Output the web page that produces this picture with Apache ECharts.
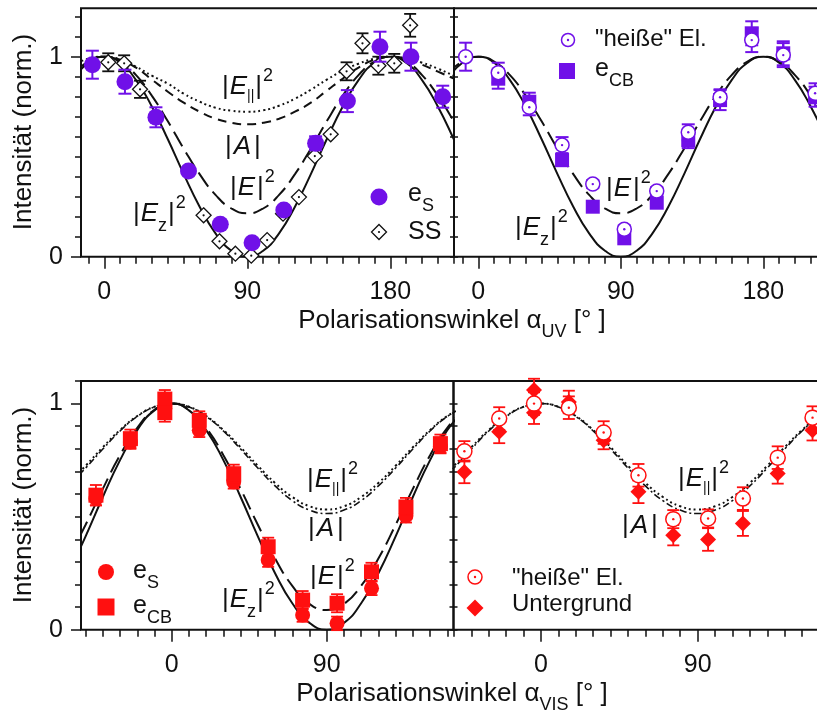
<!DOCTYPE html>
<html>
<head>
<meta charset="utf-8">
<script src="https://cdn.jsdelivr.net/npm/echarts@6/dist/echarts.min.js"></script>
<style>
  html, body { margin: 0; padding: 0; background: #fff; }
  #chart { width: 817px; height: 716px; }
</style>
</head>
<body>
<div id="chart"></div>
<script>
// ---------- model curves (UV excitation, upper row) ----------
const curveAngleUv = [-20, -10, 0, 10, 20, 30, 40, 50, 60, 70, 80, 90, 100, 110, 120, 130, 140, 150, 160, 170, 180, 190, 200, 210, 220, 230];
const ezUv   = [0.883, 0.970, 1, 0.970, 0.883, 0.750, 0.587, 0.413, 0.250, 0.117, 0.030, 0, 0.030, 0.117, 0.250, 0.413, 0.587, 0.750, 0.883, 0.970, 1, 0.970, 0.883, 0.750, 0.587, 0.413];
const eTotUv = [0.908, 0.976, 1, 0.976, 0.908, 0.804, 0.677, 0.540, 0.413, 0.309, 0.241, 0.217, 0.241, 0.309, 0.413, 0.540, 0.677, 0.804, 0.908, 0.976, 1, 0.976, 0.908, 0.804, 0.677, 0.540];
const absAUv = [0.950, 0.985, 1, 0.985, 0.945, 0.885, 0.825, 0.770, 0.725, 0.690, 0.670, 0.662, 0.670, 0.690, 0.725, 0.770, 0.830, 0.890, 0.945, 0.985, 1, 0.990, 0.960, 0.925, 0.890, 0.850];
const eParUv = [0.955, 0.990, 1, 0.985, 0.950, 0.905, 0.865, 0.815, 0.775, 0.745, 0.730, 0.725, 0.732, 0.755, 0.790, 0.835, 0.885, 0.930, 0.965, 0.990, 1, 0.990, 0.970, 0.940, 0.905, 0.870];

// ---------- model curves (VIS excitation, lower row) ----------
const curveAngleVis = [-60, -50, -40, -30, -20, -10, 0, 10, 20, 30, 40, 50, 60, 70, 80, 90, 100, 110, 120, 130, 140, 150, 160, 170];
const ezVis   = [0.250, 0.413, 0.587, 0.750, 0.883, 0.970, 1, 0.970, 0.883, 0.750, 0.587, 0.413, 0.250, 0.117, 0.030, 0, 0.030, 0.117, 0.250, 0.413, 0.587, 0.750, 0.883, 0.970];
const eTotVis = [0.315, 0.464, 0.623, 0.772, 0.893, 0.973, 1, 0.973, 0.893, 0.772, 0.623, 0.464, 0.315, 0.194, 0.114, 0.087, 0.114, 0.194, 0.315, 0.464, 0.623, 0.772, 0.893, 0.973];
const eParVis = [0.649, 0.725, 0.807, 0.883, 0.945, 0.986, 1, 0.986, 0.945, 0.883, 0.807, 0.725, 0.649, 0.587, 0.546, 0.532, 0.546, 0.587, 0.649, 0.725, 0.807, 0.883, 0.945, 0.986];
const absAVis = [0.636, 0.715, 0.799, 0.879, 0.943, 0.985, 1, 0.985, 0.943, 0.879, 0.799, 0.715, 0.636, 0.571, 0.529, 0.514, 0.529, 0.571, 0.636, 0.715, 0.799, 0.879, 0.943, 0.985];

// ---------- measurements, UV ----------
const esUvAngle = [-7.5, 13, 32.5, 53, 73, 93, 113, 133, 153, 173.5, 193, 213];
const esUvValue = [0.96, 0.875, 0.697, 0.428, 0.162, 0.07, 0.233, 0.567, 0.778, 1.05, 1.0, 0.80];
const esUvErr   = [0.07, 0.06, 0.05, 0, 0, 0, 0, 0.035, 0.055, 0.075, 0.07, 0.055];

const ssAngle = [2.5, 12.5, 22.5, 62.5, 72.5, 82.5, 92.5, 102.5, 112.5, 122.5, 132.5, 142.5, 152.5, 162.5, 172.5, 182.5, 192.5];
const ssValue = [0.972, 0.967, 0.837, 0.207, 0.077, 0.015, 0.005, 0.083, 0.215, 0.298, 0.503, 0.612, 0.927, 1.067, 0.955, 0.967, 1.157];
const ssErr   = [0.045, 0.04, 0.043, 0, 0, 0, 0, 0, 0, 0, 0, 0, 0.045, 0.05, 0.045, 0.047, 0.057];

const hotUvAngle = [-8, 12.6, 32.2, 52.9, 72.3, 92.2, 112.7, 132.6, 152.7, 172.7, 192.6, 212.7];
const hotUvValue = [1.0, 0.92, 0.747, 0.558, 0.363, 0.137, 0.328, 0.622, 0.797, 1.083, 1.008, 0.817];
const hotUvErr   = [0.07, 0.05, 0.04, 0.04, 0.02, 0.02, 0.02, 0.04, 0.04, 0.06, 0.06, 0.05];

const cbUvAngle = [12.6, 32.2, 52.9, 72.3, 92.2, 112.7, 132.6, 152.7, 172.7, 192.6, 212.7];
const cbUvValue = [0.89, 0.775, 0.483, 0.25, 0.092, 0.27, 0.583, 0.783, 1.117, 1.017, 0.80];
const cbUvErr   = [0.05, 0.045, 0.03, 0, 0, 0, 0.04, 0.05, 0.06, 0.06, 0.05];

// ---------- measurements, VIS ----------
const esVisAngle = [-44, -24, -4, 16, 36, 56, 76, 96, 116, 136, 156];
const esVisValue = [0.58, 0.83, 0.98, 0.882, 0.654, 0.308, 0.065, 0.028, 0.183, 0.504, 0.81];
const esVisErr   = [0.03, 0.03, 0.03, 0.03, 0.03, 0.03, 0.03, 0.03, 0.03, 0.03, 0.03];

const cbVisAngle = [-44, -24, -4, -4, 16, 36, 56, 76, 96, 116, 136, 156];
const cbVisValue = [0.595, 0.845, 1.02, 0.96, 0.926, 0.69, 0.367, 0.131, 0.117, 0.256, 0.543, 0.823];
const cbVisErr   = [0.045, 0.04, 0.04, 0.04, 0.04, 0.04, 0.04, 0.04, 0.04, 0.04, 0.04, 0.04];

const hotVisAngle = [-44, -24, -4, 16, 36, 56, 76, 96, 116, 136, 156];
const hotVisValue = [0.789, 0.934, 1.0, 0.982, 0.872, 0.683, 0.489, 0.492, 0.58, 0.761, 0.938];
const hotVisErr   = [0.045, 0.05, 0.05, 0.05, 0.05, 0.05, 0.04, 0.04, 0.05, 0.05, 0.05];

const bgVisAngle = [-44, -24, -4, -4, 16, 36, 56, 76, 96, 116, 136, 156];
const bgVisValue = [0.698, 0.875, 1.06, 0.96, 1.007, 0.838, 0.61, 0.418, 0.399, 0.47, 0.691, 0.882];
const bgVisErr   = [0.05, 0.05, 0.05, 0.05, 0.05, 0.04, 0.05, 0.045, 0.05, 0.055, 0.045, 0.045];

// ---------- tick positions ----------
const majorTicksUv = [0, 90, 180];
const minorTicksUv = [-10, 0, 10, 20, 30, 40, 50, 60, 70, 80, 90, 100, 110, 120, 130, 140, 150, 160, 170, 180, 190, 200, 210, 220];
const majorTicksVis = [0, 90];
const minorTicksVis = [-50, -40, -30, -20, -10, 0, 10, 20, 30, 40, 50, 60, 70, 80, 90, 100, 110, 120, 130, 140, 150, 160];
const yLabelTicks = [0, 1];
const yMinorTicksUv = [0, 0.1, 0.2, 0.3, 0.4, 0.5, 0.6, 0.7, 0.8, 0.9, 1, 1.1, 1.2];
const yMinorTicksVis = [0, 0.1, 0.2, 0.3, 0.4, 0.5, 0.6, 0.7, 0.8, 0.9, 1, 1.1];

// ---------- styling ----------
const PURPLE = '#7010e8';
const RED = '#ff1010';
const INK = '#111111';
const FONT = '"Liberation Sans", Arial, Helvetica, sans-serif';

// panel frames: [left, top, width, height, xMin, xMax, yMax]
const panels = [
  { left: 81,    top: 8.3, width: 373,   height: 248.4, xMin: -14.66, xMax: 220.1,  yMax: 1.242, major: majorTicksUv,  minor: minorTicksUv,  yMinor: yMinorTicksUv,  labels: true },
  { left: 454,   top: 8.3, width: 374,   height: 248.4, xMin: -15.35, xMax: 220.86, yMax: 1.242, major: majorTicksUv,  minor: minorTicksUv,  yMinor: yMinorTicksUv,  labels: false },
  { left: 81,    top: 381, width: 372.5, height: 248.7, xMin: -52.67, xMax: 163.6,  yMax: 1.1,   major: majorTicksVis, minor: minorTicksVis, yMinor: yMinorTicksVis, labels: true },
  { left: 453.5, top: 381, width: 374,   height: 248.7, xMin: -50.26, xMax: 164.6,  yMax: 1.1,   major: majorTicksVis, minor: minorTicksVis, yMinor: yMinorTicksVis, labels: false }
];

const tickStyle = { color: INK, width: 1.5 };
const hidden = { show: false };
const noLine = { show: false, onZero: false };
const labelFont = { fontSize: 25, fontFamily: FONT, color: INK };

const grids = [], xAxes = [], yAxes = [];
panels.forEach((p, i) => {
  grids.push({ left: p.left, top: p.top, width: p.width, height: p.height, show: true,
    borderColor: INK, borderWidth: 2, backgroundColor: 'transparent', containLabel: false, outerBoundsMode: 'none' });
  // bottom axis: 10 degree ticks and the labels
  xAxes.push({ type: 'value', gridIndex: i, min: p.xMin, max: p.xMax, position: 'bottom',
    axisLine: noLine, splitLine: hidden,
    axisTick: { show: true, customValues: p.minor, length: 7, lineStyle: tickStyle },
    axisLabel: Object.assign({ show: true, customValues: p.major, margin: 23 }, labelFont) });
  // longer ticks at the labelled angles, drawn from the frame's lower edge
  xAxes.push({ type: 'value', gridIndex: i, min: p.xMin, max: p.xMax, position: 'top', offset: -p.height,
    axisLine: noLine, splitLine: hidden,
    axisTick: { show: true, inside: true, customValues: p.major, length: 12, lineStyle: tickStyle },
    axisLabel: hidden });
  if (p.labels) {
    yAxes.push({ type: 'value', gridIndex: i, min: 0, max: p.yMax, position: 'left',
      axisLine: noLine, splitLine: hidden,
      axisTick: { show: true, customValues: p.yMinor, length: 6, lineStyle: tickStyle },
      axisLabel: Object.assign({ show: true, customValues: yLabelTicks, margin: 18 }, labelFont) });
    yAxes.push({ type: 'value', gridIndex: i, min: 0, max: p.yMax, position: 'right', offset: -p.width,
      axisLine: noLine, splitLine: hidden,
      axisTick: { show: true, inside: true, customValues: yLabelTicks, length: 10, lineStyle: tickStyle },
      axisLabel: hidden });
  } else {
    // ticks crossing the shared border
    yAxes.push({ type: 'value', gridIndex: i, min: 0, max: p.yMax, position: 'left',
      axisLine: noLine, splitLine: hidden,
      axisTick: { show: true, customValues: p.yMinor, length: 4, lineStyle: tickStyle },
      axisLabel: hidden });
    yAxes.push({ type: 'value', gridIndex: i, min: 0, max: p.yMax, position: 'right', offset: -p.width,
      axisLine: noLine, splitLine: hidden,
      axisTick: { show: true, customValues: p.yMinor, length: 4, lineStyle: tickStyle },
      axisLabel: hidden });
  }
});

// ---------- series builders ----------
const zip = (xs, ys) => xs.map((x, i) => [x, ys[i]]);

function curve(panel, xs, ys, dash, width) {
  return { type: 'line', xAxisIndex: 2 * panel, yAxisIndex: 2 * panel, data: zip(xs, ys),
    smooth: 0.5, symbol: 'none', showSymbol: false, silent: true, clip: true, z: 2,
    lineStyle: { color: INK, width: width, type: dash, cap: 'butt' } };
}

function markers(panel, xs, ys, symbol, size, fill, stroke, borderWidth, z) {
  return { type: 'scatter', xAxisIndex: 2 * panel, yAxisIndex: 2 * panel, data: zip(xs, ys),
    symbol: symbol, symbolSize: size, silent: true, z: z,
    itemStyle: { color: fill, borderColor: stroke, borderWidth: borderWidth, opacity: 1 } };
}

function errorBars(panel, xs, ys, es, color, capWidth, lineWidth, z) {
  const data = xs.map((x, i) => [x, ys[i], es[i]]).filter(d => d[2] > 0);
  return { type: 'custom', coordinateSystem: 'cartesian2d', xAxisIndex: 2 * panel, yAxisIndex: 2 * panel,
    data: data, encode: { x: 0, y: 1 }, silent: true, z: z,
    renderItem: function (params, api) {
      const x = api.value(0), y = api.value(1), e = api.value(2);
      const hi = api.coord([x, y + e]);
      const lo = api.coord([x, y - e]);
      const h = capWidth / 2;
      const style = { stroke: color, lineWidth: lineWidth, fill: null };
      return { type: 'group', children: [
        { type: 'line', shape: { x1: hi[0], y1: hi[1], x2: lo[0], y2: lo[1] }, style: style },
        { type: 'line', shape: { x1: hi[0] - h, y1: hi[1], x2: hi[0] + h, y2: hi[1] }, style: style },
        { type: 'line', shape: { x1: lo[0] - h, y1: lo[1], x2: lo[0] + h, y2: lo[1] }, style: style }
      ] };
    } };
}

const DOT = [2, 3];
const LONG_DASH = [17, 7];
const DASH = [9, 6];
const DASH_DOT = [7, 3, 2, 3];

const series = [
  // upper left
  curve(0, curveAngleUv, eParUv, DOT, 2),
  curve(0, curveAngleUv, absAUv, DASH, 2),
  curve(0, curveAngleUv, eTotUv, LONG_DASH, 2),
  curve(0, curveAngleUv, ezUv, 'solid', 2),
  errorBars(0, ssAngle, ssValue, ssErr, INK, 12, 1.8, 3),
  markers(0, ssAngle, ssValue, 'diamond', 15, '#ffffff', INK, 1.3, 4),
  markers(0, ssAngle, ssValue, 'circle', 2.2, INK, INK, 0, 5),
  errorBars(0, esUvAngle, esUvValue, esUvErr, PURPLE, 13, 2, 6),
  markers(0, esUvAngle, esUvValue, 'circle', 17, PURPLE, PURPLE, 0, 7),
  // upper right
  curve(1, curveAngleUv, eTotUv, LONG_DASH, 2),
  curve(1, curveAngleUv, ezUv, 'solid', 2),
  errorBars(1, cbUvAngle, cbUvValue, cbUvErr, PURPLE, 13, 2, 3),
  markers(1, cbUvAngle, cbUvValue, 'rect', 14, PURPLE, PURPLE, 0, 4),
  errorBars(1, hotUvAngle, hotUvValue, hotUvErr, PURPLE, 13, 2, 5),
  markers(1, hotUvAngle, hotUvValue, 'circle', 14, '#ffffff', PURPLE, 1.5, 6),
  markers(1, hotUvAngle, hotUvValue, 'circle', 2.4, PURPLE, PURPLE, 0, 7),
  // lower left
  curve(2, curveAngleVis, eParVis, DOT, 2),
  curve(2, curveAngleVis, absAVis, DASH_DOT, 1.6),
  curve(2, curveAngleVis, eTotVis, LONG_DASH, 2),
  curve(2, curveAngleVis, ezVis, 'solid', 2),
  errorBars(2, esVisAngle, esVisValue, esVisErr, RED, 12, 1.8, 3),
  markers(2, esVisAngle, esVisValue, 'circle', 15, RED, RED, 0, 4),
  errorBars(2, cbVisAngle, cbVisValue, cbVisErr, RED, 12, 1.8, 5),
  markers(2, cbVisAngle, cbVisValue, 'rect', 15, RED, RED, 0, 6),
  // lower right
  curve(3, curveAngleVis, eParVis, DOT, 2),
  curve(3, curveAngleVis, absAVis, DASH_DOT, 1.6),
  errorBars(3, bgVisAngle, bgVisValue, bgVisErr, RED, 12, 1.8, 3),
  markers(3, bgVisAngle, bgVisValue, 'diamond', 16, RED, RED, 0, 4),
  errorBars(3, hotVisAngle, hotVisValue, hotVisErr, RED, 12, 1.8, 5),
  markers(3, hotVisAngle, hotVisValue, 'circle', 15, '#ffffff', RED, 1.5, 6),
  markers(3, hotVisAngle, hotVisValue, 'circle', 2.4, RED, RED, 0, 7)
];

// ---------- text with sub- and superscripts ----------
const measure = document.createElement('canvas').getContext('2d');
function textWidth(t, size, italic) {
  measure.font = (italic ? 'italic ' : '') + size + 'px ' + FONT;
  return measure.measureText(t).width;
}
// parts: { t, kind: 'n' | 'sub' | 'sup', it, size, dy, gap }
function richText(x, baseline, base, parts, align) {
  const items = parts.map(p => {
    const kind = p.kind || 'n';
    const size = p.size || (kind === 'n' ? base : 18);
    const dy = p.dy !== undefined ? p.dy : (kind === 'sub' ? base * 0.34 : kind === 'sup' ? -base * 0.52 : 0);
    return { t: p.t, size: size, dy: dy, it: !!p.it, w: textWidth(p.t, size, p.it) + (p.gap || 0) };
  });
  const total = items.reduce((s, i) => s + i.w, 0);
  let cx = align === 'center' ? x - total / 2 : x;
  return items.map(i => {
    const el = { type: 'text', x: cx, y: baseline + i.dy - 0.347 * i.size, silent: true, z: 20,
      style: { text: i.t, fontSize: i.size, fontFamily: FONT, fontStyle: i.it ? 'italic' : 'normal',
        fill: INK, align: 'left', verticalAlign: 'middle' } };
    cx += i.w;
    return el;
  });
}

const CURVE_FONT = 26;
const parLabel = [ { t: '|', gap: 1 }, { t: 'E', it: true }, { t: '||', kind: 'sub', size: 14, dy: 5, gap: 1 }, { t: '|', gap: 1 }, { t: '2', kind: 'sup' } ];
const aLabel   = [ { t: '|', gap: 2 }, { t: 'A', it: true, gap: 3 }, { t: '|' } ];
const eLabel   = [ { t: '|', gap: 1 }, { t: 'E', it: true, gap: 2 }, { t: '|', gap: 1 }, { t: '2', kind: 'sup' } ];
const ezLabel  = [ { t: '|', gap: 1 }, { t: 'E', it: true }, { t: 'z', kind: 'sub', gap: 1 }, { t: '|', gap: 1 }, { t: '2', kind: 'sup' } ];

const graphics = [].concat(
  // curve names
  richText(222, 96, CURVE_FONT, parLabel),
  richText(225, 156, CURVE_FONT, aLabel),
  richText(230, 197, CURVE_FONT, eLabel),
  richText(133, 223, CURVE_FONT, ezLabel),
  richText(606, 198, CURVE_FONT, eLabel),
  richText(515, 237, CURVE_FONT, ezLabel),
  richText(307, 489, CURVE_FONT, parLabel),
  richText(308, 538, CURVE_FONT, aLabel),
  richText(310, 586, CURVE_FONT, eLabel),
  richText(222, 609, CURVE_FONT, ezLabel),
  richText(678, 488, CURVE_FONT, parLabel),
  richText(622, 535, CURVE_FONT, aLabel),
  // legend texts
  richText(408, 203, 25, [ { t: 'e' }, { t: 'S', kind: 'sub', dy: 9 } ]),
  richText(408, 241, 25, [ { t: 'SS' } ]),
  richText(595, 48, 24, [ { t: '"heiße" El.' } ]),
  richText(595, 78, 25, [ { t: 'e' }, { t: 'CB', kind: 'sub', dy: 9 } ]),
  richText(133, 580, 25, [ { t: 'e' }, { t: 'S', kind: 'sub', dy: 9 } ]),
  richText(133, 615, 25, [ { t: 'e' }, { t: 'CB', kind: 'sub', dy: 9 } ]),
  richText(512, 587, 24, [ { t: '"heiße" El.' } ]),
  richText(512, 613, 24, [ { t: 'Untergrund' } ]),
  // axis titles
  richText(452, 330, 26, [ { t: 'Polarisationswinkel ' }, { t: 'α' }, { t: 'UV', kind: 'sub', dy: 8 }, { t: ' [° ]' } ], 'center'),
  richText(452, 703, 26, [ { t: 'Polarisationswinkel ' }, { t: 'α' }, { t: 'VIS', kind: 'sub', dy: 8 }, { t: ' [° ]' } ], 'center'),
  [
    { type: 'text', x: 24, y: 132, rotation: Math.PI / 2, silent: true, z: 20,
      style: { text: 'Intensität (norm.)', fontSize: 26, fontFamily: FONT, fill: INK, align: 'center', verticalAlign: 'middle' } },
    { type: 'text', x: 24, y: 505, rotation: Math.PI / 2, silent: true, z: 20,
      style: { text: 'Intensität (norm.)', fontSize: 26, fontFamily: FONT, fill: INK, align: 'center', verticalAlign: 'middle' } },
    // legend symbols
    { type: 'circle', shape: { cx: 379, cy: 197, r: 8.5 }, style: { fill: PURPLE }, silent: true, z: 20 },
    { type: 'polygon', shape: { points: [[379, 224.5], [386.5, 232], [379, 239.5], [371.5, 232]] }, style: { fill: '#fff', stroke: INK, lineWidth: 1.3 }, silent: true, z: 20 },
    { type: 'circle', shape: { cx: 379, cy: 232, r: 1.1 }, style: { fill: INK }, silent: true, z: 21 },
    { type: 'circle', shape: { cx: 568, cy: 40, r: 6.5 }, style: { fill: '#fff', stroke: PURPLE, lineWidth: 1.5 }, silent: true, z: 20 },
    { type: 'circle', shape: { cx: 568, cy: 40, r: 1.2 }, style: { fill: PURPLE }, silent: true, z: 21 },
    { type: 'rect', shape: { x: 559, y: 63, width: 16, height: 16 }, style: { fill: PURPLE }, silent: true, z: 20 },
    { type: 'circle', shape: { cx: 106, cy: 572, r: 8 }, style: { fill: RED }, silent: true, z: 20 },
    { type: 'rect', shape: { x: 97.5, y: 598.5, width: 17, height: 17 }, style: { fill: RED }, silent: true, z: 20 },
    { type: 'circle', shape: { cx: 475, cy: 577, r: 7 }, style: { fill: '#fff', stroke: RED, lineWidth: 1.5 }, silent: true, z: 20 },
    { type: 'circle', shape: { cx: 475, cy: 577, r: 1.2 }, style: { fill: RED }, silent: true, z: 21 },
    { type: 'polygon', shape: { points: [[475, 599.5], [483.5, 608], [475, 616.5], [466.5, 608]] }, style: { fill: RED }, silent: true, z: 20 }
  ]
);

const chart = echarts.init(document.getElementById('chart'), null, { renderer: 'canvas' });
chart.setOption({
  animation: false,
  backgroundColor: '#ffffff',
  grid: grids,
  xAxis: xAxes,
  yAxis: yAxes,
  series: series,
  graphic: { elements: graphics }
});
</script>
</body>
</html>
